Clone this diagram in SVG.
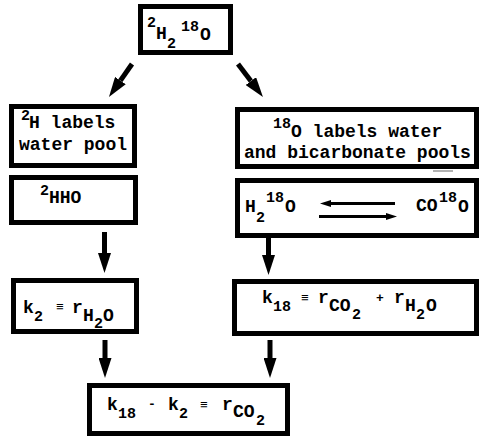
<svg xmlns="http://www.w3.org/2000/svg" width="483" height="443" viewBox="0 0 483 443">
<style>
.box{fill:#fff;stroke:#000;stroke-width:5}
text{font-family:"Liberation Mono","DejaVu Sans Mono",monospace;font-weight:bold;fill:#000}
.m{font-size:18px}
.b{font-size:18px}
.s{font-size:15px}
.q{font-size:13px}
.shaft{stroke:#000;stroke-width:5;fill:none}
.thin{stroke:#000;stroke-width:3;fill:none}
</style>
<defs>
<marker id="big" viewBox="0 0 20 13" refX="0" refY="6.5" markerWidth="20" markerHeight="13" markerUnits="userSpaceOnUse" orient="auto">
<path d="M0,0 L20,6.5 L0,13 Z" fill="#000"/>
</marker>
<marker id="small" viewBox="0 0 11 7" refX="0" refY="3.5" markerWidth="11" markerHeight="7" markerUnits="userSpaceOnUse" orient="auto">
<path d="M0,0 L11,3.5 L0,7 Z" fill="#000"/>
</marker>
</defs>

<g id="connectors">
<line class="shaft" x1="132" y1="64" x2="120.4" y2="80.6" marker-end="url(#big)"/>
<line class="shaft" x1="238" y1="64" x2="250.9" y2="81.1" marker-end="url(#big)"/>
<line class="shaft" x1="104.5" y1="232" x2="104.5" y2="253" marker-end="url(#big)"/>
<line class="shaft" x1="268.5" y1="235" x2="268.5" y2="255" marker-end="url(#big)"/>
<line class="shaft" x1="105" y1="340" x2="105" y2="358" marker-end="url(#big)"/>
<line class="shaft" x1="270" y1="340" x2="270" y2="358" marker-end="url(#big)"/>
</g>

<g id="n_top">
<rect class="box" x="140.5" y="6.5" width="90" height="46"/>
<text><tspan class="s" x="147" y="27">2</tspan><tspan class="m" x="156" y="39">H</tspan><tspan class="s" x="167" y="48">2</tspan><tspan class="s" x="181" y="31">18</tspan><tspan class="m" x="200" y="40">O</tspan></text>
</g>

<g id="n_h_labels">
<rect class="box" x="11.5" y="106.5" width="123" height="59"/>
<text><tspan class="s" x="21" y="120">2</tspan><tspan class="b" x="29" y="128">H labels</tspan></text>
<text class="b" x="19" y="150">water pool</text>
</g>

<g id="n_o_labels">
<rect class="box" x="237.5" y="109.5" width="239" height="57"/>
<text><tspan class="s" x="273" y="128">18</tspan><tspan class="b" x="291" y="137">O labels water</tspan></text>
<text class="b" x="244" y="158">and bicarbonate pools</text>
<line x1="433" y1="171" x2="453" y2="171" stroke="#999" stroke-width="1.5"/>
</g>

<g id="n_hho">
<rect class="box" x="11.5" y="177.5" width="124" height="45"/>
<text><tspan class="s" x="40" y="195">2</tspan><tspan class="m" x="49" y="203">HHO</tspan></text>
</g>

<g id="n_equil">
<rect class="box" x="237.5" y="180.5" width="239" height="55"/>
<text><tspan class="m" x="245" y="212">H</tspan><tspan class="s" x="256" y="222">2</tspan><tspan class="s" x="266" y="202">18</tspan><tspan class="m" x="285" y="212">O</tspan></text>
<text><tspan class="m" x="416" y="211">CO</tspan><tspan class="s" x="439" y="202">18</tspan><tspan class="m" x="458" y="212">O</tspan></text>
<line class="thin" x1="395" y1="203.5" x2="331" y2="203.5" marker-end="url(#small)"/>
<line class="thin" x1="319" y1="216.5" x2="386" y2="216.5" marker-end="url(#small)"/>
</g>

<g id="n_k2">
<rect class="box" x="13.5" y="280.5" width="123" height="51"/>
<text><tspan class="m" x="23" y="313">k</tspan><tspan class="s" x="34" y="321">2</tspan><tspan class="q" x="56" y="311">≡</tspan><tspan class="m" x="72" y="313">r</tspan><tspan class="m" x="83" y="321">H</tspan><tspan class="s" x="94" y="328">2</tspan><tspan class="m" x="103" y="321">O</tspan></text>
</g>

<g id="n_k18">
<rect class="box" x="234.5" y="281.5" width="242" height="52"/>
<text><tspan class="m" x="262" y="303">k</tspan><tspan class="s" x="273" y="311">18</tspan><tspan class="q" x="301" y="302">≡</tspan><tspan class="m" x="318" y="303">r</tspan><tspan class="m" x="329" y="311">CO</tspan><tspan class="s" x="352" y="319">2</tspan><tspan class="q" x="376" y="302">+</tspan><tspan class="m" x="394" y="303">r</tspan><tspan class="m" x="405" y="311">H</tspan><tspan class="s" x="416" y="319">2</tspan><tspan class="m" x="426" y="311">O</tspan></text>
</g>

<g id="n_result">
<rect class="box" x="89.5" y="385.5" width="198" height="48"/>
<text><tspan class="m" x="107" y="410">k</tspan><tspan class="s" x="118" y="418">18</tspan><tspan class="q" x="148" y="408">-</tspan><tspan class="m" x="168" y="410">k</tspan><tspan class="s" x="179" y="418">2</tspan><tspan class="q" x="200" y="409">≡</tspan><tspan class="m" x="222" y="410">r</tspan><tspan class="m" x="233" y="417">CO</tspan><tspan class="s" x="256" y="425">2</tspan></text>
</g>
</svg>
